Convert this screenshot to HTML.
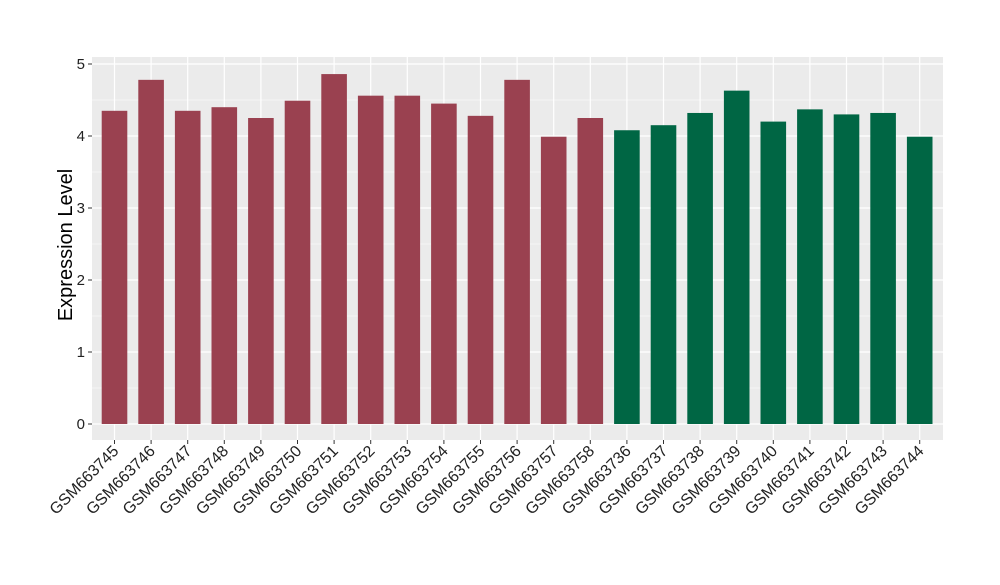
<!DOCTYPE html>
<html><head><style>body{margin:0;background:#fff}</style></head><body>
<svg width="1000" height="580" xmlns="http://www.w3.org/2000/svg" font-family="Liberation Sans, sans-serif">
<rect x="92" y="57" width="851" height="383" fill="#ebebeb"/>
<g id="g"></g>
<text x="72" y="245" font-size="20" text-anchor="middle" transform="rotate(-90 72 245)">Expression Level</text>
</svg>
<script>
const v=[4.35,4.78,4.35,4.40,4.25,4.49,4.86,4.56,4.56,4.45,4.28,4.78,3.99,4.25,4.08,4.15,4.32,4.63,4.20,4.37,4.30,4.32,3.99];
const n=["GSM663745","GSM663746","GSM663747","GSM663748","GSM663749","GSM663750","GSM663751","GSM663752","GSM663753","GSM663754","GSM663755","GSM663756","GSM663757","GSM663758","GSM663736","GSM663737","GSM663738","GSM663739","GSM663740","GSM663741","GSM663742","GSM663743","GSM663744"];
let s="";const Y=u=>424-72*u;
for(let k=0;k<5;k++)s+=`<line x1="92" x2="943" y1="${Y(k+0.5)}" y2="${Y(k+0.5)}" stroke="#fff" stroke-width="0.6"/>`;
for(let k=0;k<=5;k++)s+=`<line x1="92" x2="943" y1="${Y(k)}" y2="${Y(k)}" stroke="#fff" stroke-width="1.2"/><line x1="88" x2="92" y1="${Y(k)}" y2="${Y(k)}" stroke="#333"/><text x="85" y="${Y(k)+5}" font-size="15" text-anchor="end" fill="#222">${k}</text>`;
v.forEach((d,i)=>{const c=114.5+36.6*i;
s+=`<line x1="${c}" x2="${c}" y1="57" y2="440" stroke="#fff" stroke-width="1.2"/>`;});
v.forEach((d,i)=>{const c=114.5+36.6*i;
s+=`<rect x="${c-12.8}" y="${Y(d)}" width="25.6" height="${72*d}" fill="${i<14?'#9a4150':'#006644'}"/>`;
s+=`<line x1="${c}" x2="${c}" y1="440" y2="444" stroke="#333"/>`;
s+=`<text x="${c+5}" y="452" font-size="16" text-anchor="end" fill="#222" transform="rotate(-45 ${c+5} 452)">${n[i]}</text>`;});
document.getElementById("g").innerHTML=s;
</script>
</body></html>
